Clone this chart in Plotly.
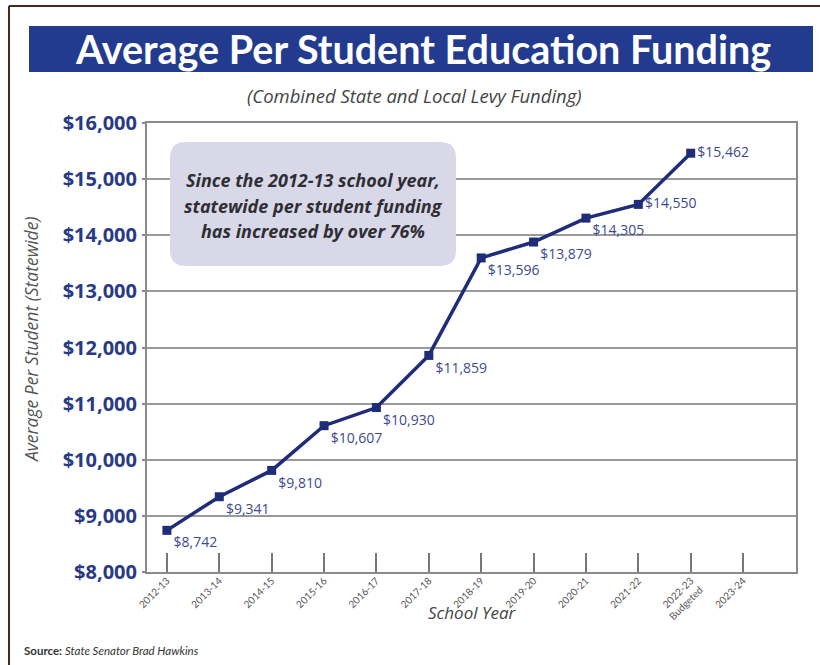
import plotly.graph_objects as go

years = ["2012-13", "2013-14", "2014-15", "2015-16", "2016-17", "2017-18",
         "2018-19", "2019-20", "2020-21", "2021-22", "2022-23<br>Budgeted", "2023-24"]
funding = [8742, 9341, 9810, 10607, 10930, 11859, 13596, 13879, 14305, 14550, 15462]
label_pos = ["bottom right"] * 9 + ["middle right", "middle right"]
y_ticks = [8000, 9000, 10000, 11000, 12000, 13000, 14000, 15000, 16000]
y_ticktext = ["${:,}".format(v) for v in y_ticks]
callout_lines = ["Since the 2012-13 school year,",
                 "statewide per student funding",
                 "has increased by over 76%"]

W, H = 820, 665
L, R, T, B = 147, 796, 123, 572  # plot area in pixels


def px(x):
    return (x - L) / (R - L)


def py(y):
    return (B - y) / (B - T)


navy = "#1f2d78"
fig = go.Figure()
fig.add_trace(go.Scatter(
    x=list(range(len(funding))), y=funding,
    mode="lines+markers+text",
    line=dict(color=navy, width=3.5),
    marker=dict(symbol="square", size=9, color=navy),
    text=["${:,}".format(v) for v in funding],
    textposition=label_pos,
    textfont=dict(family="Open Sans", size=14, color="#3d4a8e"),
    cliponaxis=False,
    hoverinfo="skip",
))

# rounded callout box
x0, x1, y0, y1 = px(170), px(456), py(266), py(142)
rx, ry = 16 / (R - L), 16 / (B - T)
path = (f"M {x0+rx},{y0} L {x1-rx},{y0} Q {x1},{y0} {x1},{y0+ry} "
        f"L {x1},{y1-ry} Q {x1},{y1} {x1-rx},{y1} L {x0+rx},{y1} "
        f"Q {x0},{y1} {x0},{y1-ry} L {x0},{y0+ry} Q {x0},{y0} {x0+rx},{y0} Z")

shapes = [
    dict(type="path", path=path, xref="paper", yref="paper",
         fillcolor="#d9d8e9", line=dict(width=0), layer="above"),
    # title banner
    dict(type="rect", xref="paper", yref="paper", x0=px(29), x1=px(813), y0=py(72), y1=py(26),
         fillcolor="#223b8f", line=dict(width=0)),
    # outer frame lines
    dict(type="line", xref="paper", yref="paper", x0=px(9), x1=px(9), y0=py(6), y1=py(670),
         line=dict(color="#4a2a1c", width=2)),
    dict(type="line", xref="paper", yref="paper", x0=px(9), x1=px(830), y0=py(6), y1=py(6),
         line=dict(color="#4a2a1c", width=2)),
]

annotations = [
    dict(text="<b>Average Per Student Education Funding</b>", xref="paper", yref="paper",
         x=px(423), y=py(48), showarrow=False, xanchor="center", yanchor="middle",
         font=dict(family="Lato", size=39.5, color="white")),
    dict(text="<i>(Combined State and Local Levy Funding)</i>", xref="paper", yref="paper",
         x=px(414), y=py(95), showarrow=False, xanchor="center", yanchor="middle",
         font=dict(family="Open Sans", size=18.5, color="#444444")),
    dict(text="<i>Average Per Student (Statewide)</i>", xref="paper", yref="paper",
         x=px(31), y=py(340), showarrow=False, textangle=-90,
         xanchor="center", yanchor="middle",
         font=dict(family="Open Sans", size=17.5, color="#555555")),
    dict(text="<i>School Year</i>", xref="paper", yref="paper",
         x=px(472), y=py(612), showarrow=False, xanchor="center", yanchor="middle",
         font=dict(family="Open Sans", size=17, color="#444444")),
    dict(text="<b>Source:</b> <i>State Senator Brad Hawkins</i>", xref="paper", yref="paper",
         x=px(22), y=py(650), showarrow=False, xanchor="left", yanchor="middle",
         font=dict(family="Lato", size=11.5, color="#333333")),
]
for i, line in enumerate(callout_lines):
    annotations.append(dict(
        text=f"<b><i>{line}</i></b>", xref="paper", yref="paper",
        x=px(313), y=py(180 + 25.5 * i), showarrow=False,
        xanchor="center", yanchor="middle",
        font=dict(family="Open Sans", size=18, color="#2e2e33")))

fig.update_layout(
    width=W, height=H,
    margin=dict(l=L, r=W - R, t=T, b=H - B, pad=0),
    paper_bgcolor="white", plot_bgcolor="white",
    showlegend=False,
    shapes=shapes, annotations=annotations,
    xaxis=dict(
        range=[-0.38, 12.01], tickmode="array",
        tickvals=list(range(len(years))), ticktext=years,
        tickangle=-45, ticks="inside", ticklen=19, tickwidth=2, tickcolor="#777777",
        showgrid=False, zeroline=False,
        showline=True, linecolor="#8a8a8a", linewidth=2, mirror=True,
        tickfont=dict(family="Lato", size=10, color="#555555"),
        ticklabelstandoff=-3,
        fixedrange=True,
    ),
    yaxis=dict(
        range=[8000, 16000], tickmode="array", tickvals=y_ticks, ticktext=y_ticktext,
        showgrid=True, gridcolor="#9a9a9a", gridwidth=2, zeroline=False,
        showline=True, linecolor="#8a8a8a", linewidth=2, mirror=True,
        ticks="outside", ticklen=3, tickcolor="#8a8a8a", tickwidth=2,
        tickfont=dict(family="Open Sans", size=20, color="#283a85", weight="bold"),
        ticklabelstandoff=1,
        fixedrange=True,
    ),
)

fig.write_html("out.html")
